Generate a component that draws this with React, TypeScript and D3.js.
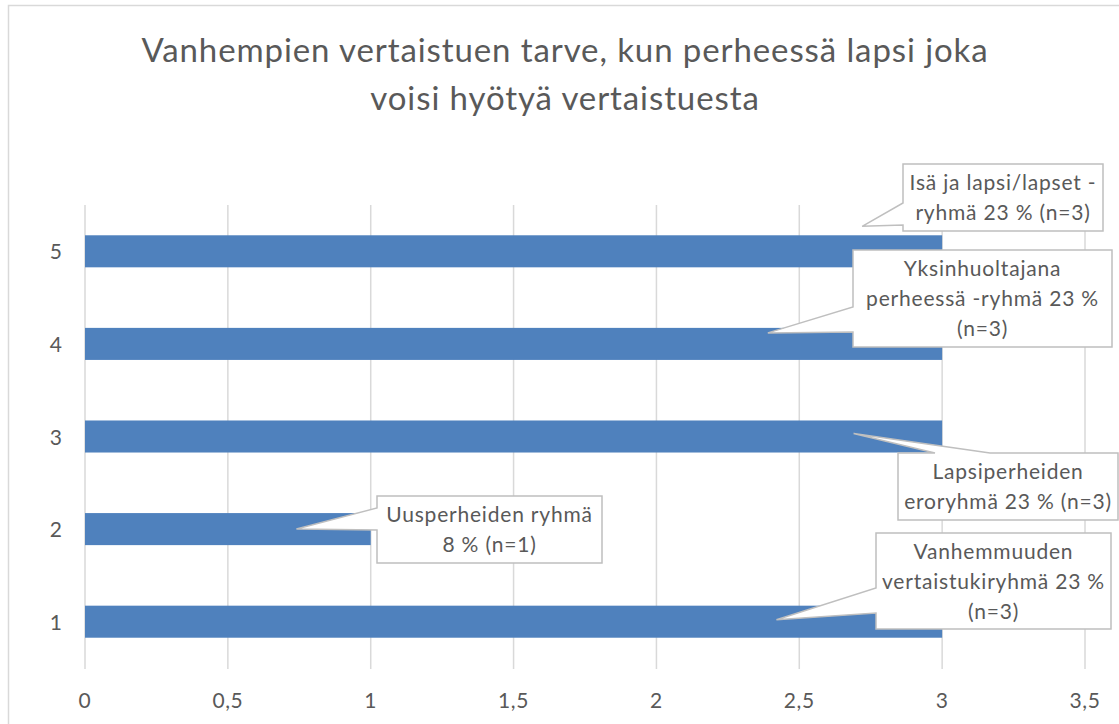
import React from 'react';
import * as d3 from 'd3';

const categories = ['1', '2', '3', '4', '5'];
const values = [3, 1, 3, 3, 3];
const xTicks = [0, 0.5, 1, 1.5, 2, 2.5, 3, 3.5];
const titleLines = ['Vanhempien vertaistuen tarve, kun perheessä lapsi joka', 'voisi hyötyä vertaistuesta'];
const labelLines = [
  ['Vanhemmuuden', 'vertaistukiryhmä 23 %', '(n=3)'],
  ['Uusperheiden ryhmä', '8 % (n=1)'],
  ['Lapsiperheiden', 'eroryhmä 23 % (n=3)'],
  ['Yksinhuoltajana', 'perheessä -ryhmä 23 %', '(n=3)'],
  ['Isä ja lapsi/lapset -', 'ryhmä 23 % (n=3)'],
];

// callout layout (pixels), not data
const calloutLayout = [
  { x: 876, y: 533, w: 235, h: 96, tipV: 2.42, tipDy: -2, edge: 'left', a: 588, b: 613 },
  { x: 377, y: 496, w: 225, h: 67, tipV: 0.74, tipDy: 0, edge: 'left', a: 508, b: 530 },
  { x: 898, y: 453, w: 220, h: 67, tipV: 2.69, tipDy: -3, edge: 'top', a: 935, b: 990 },
  { x: 853, y: 250, w: 259, h: 97, tipV: 2.39, tipDy: -11, edge: 'left', a: 307, b: 332 },
  { x: 903, y: 164, w: 200, h: 67, tipV: 2.72, tipDy: -25, edge: 'left', a: 203, b: 225 },
];

const FONT = 'Lato, "Open Sans", sans-serif';
const TEXT = '#595959';

function calloutPath(c: any, tx: number, ty: number) {
  const { x, y, w, h, edge, a, b } = c;
  const p = d3.path();
  if (edge === 'top') {
    p.moveTo(x, y);
    p.lineTo(a, y);
    p.lineTo(tx, ty);
    p.lineTo(b, y);
    p.lineTo(x + w, y);
    p.lineTo(x + w, y + h);
    p.lineTo(x, y + h);
    p.closePath();
  } else {
    p.moveTo(x, y);
    p.lineTo(x + w, y);
    p.lineTo(x + w, y + h);
    p.lineTo(x, y + h);
    p.lineTo(x, b);
    p.lineTo(tx, ty);
    p.lineTo(x, a);
    p.closePath();
  }
  return p.toString();
}

export default function App() {
  const width = 1119;
  const height = 724;
  const x = d3.scaleLinear().domain([0, 3.5]).range([85, 1085]);
  const y = d3.scaleBand().domain([...categories].reverse()).range([205, 668]).paddingInner(0.654).paddingOuter(0.327);
  const fmt = (v: number) => String(v).replace('.', ',');

  return (
    <svg width={width} height={height} style={{ position: 'absolute', left: 0, top: 0, background: '#fff' }} fontFamily={FONT}>
      <rect x={8.5} y={5.5} width={1130} height={740} fill="#fff" stroke="#d9d9d9" strokeWidth={1.5} />
      {titleLines.map((t, i) => (
        <text key={i} x={565} y={62 + i * 48} textAnchor="middle" fontSize={33} letterSpacing={0.9} fill={TEXT}>{t}</text>
      ))}
      {xTicks.map((t) => (
        <line key={t} x1={x(t)} x2={x(t)} y1={205} y2={669} stroke="#d9d9d9" strokeWidth={1.5} />
      ))}
      {categories.map((c, i) => (
        <rect key={c} x={x(0)} y={y(c)!} width={x(values[i]) - x(0)} height={y.bandwidth()} fill="#4F81BD" />
      ))}
      {categories.map((c) => (
        <text key={c} x={62} y={y(c)! + y.bandwidth() / 2 + 8} textAnchor="end" fontSize={21} fill={TEXT}>{c}</text>
      ))}
      {xTicks.map((t) => (
        <text key={t} x={x(t)} y={708} textAnchor="middle" fontSize={21} letterSpacing={0.6} fill={TEXT}>{fmt(t)}</text>
      ))}
      {categories.map((c, i) => {
        const L = calloutLayout[i];
        const tx = x(L.tipV);
        const ty = y(c)! + y.bandwidth() / 2 + L.tipDy;
        const lines = labelLines[i];
        const cy = L.y + L.h / 2;
        const lh = 30;
        return (
          <g key={c}>
            <path d={calloutPath(L, tx, ty)} fill="#fff" stroke="#bfbfbf" strokeWidth={1.5} />
            {lines.map((ln, j) => (
              <text key={j} x={L.x + L.w / 2} y={cy + (j - (lines.length - 1) / 2) * lh + 7.5} textAnchor="middle" fontSize={21} letterSpacing={0.8} fill={TEXT}>{ln}</text>
            ))}
          </g>
        );
      })}
    </svg>
  );
}
